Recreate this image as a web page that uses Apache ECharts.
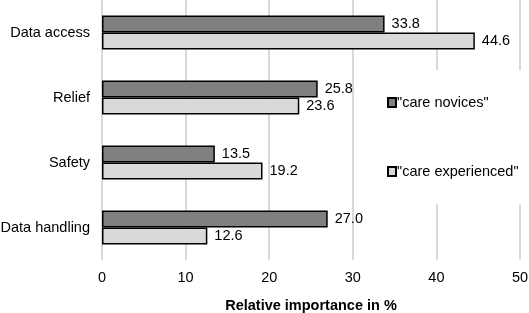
<html>
<head>
<meta charset="utf-8" />
<script src="https://cdn.jsdelivr.net/npm/echarts@6/dist/echarts.min.js"></script>
<style>
    html, body, #main { width: 100%; height: 100%; margin: 0; padding: 0; background: #fff; }
</style>
</head>
<body>
<div id="main"></div>
<script>
var categories = ['Data access', 'Relief', 'Safety', 'Data handling'];
var novices = [33.8, 25.8, 13.5, 27.0];
var experienced = [44.6, 23.6, 19.2, 12.6];
var seriesNames = ['"care novices"', '"care experienced"'];

var font = 'Liberation Sans, Arial, sans-serif';
var fs = 14.5;
var chart = echarts.init(document.getElementById('main'));

function barSeries(name, values, color) {
    return {
        type: 'bar',
        name: name,
        data: values,
        barWidth: 17,
        barGap: '0%',
        itemStyle: { color: color, borderColor: '#000', borderWidth: 1.5 },
        label: {
            show: true,
            position: 'right',
            distance: 7,
            fontFamily: font,
            fontSize: fs,
            color: '#000',
            formatter: function (p) { return p.value.toFixed(1); }
        }
    };
}

chart.setOption({
    animation: false,
    textStyle: { fontFamily: font },
    grid: { left: 102, right: 9, top: 0, bottom: 53, outerBoundsMode: 'none', containLabel: false },
    legend: {
        orient: 'vertical',
        left: 374,
        top: 70,
        width: 150,
        backgroundColor: '#fff',
        padding: [25, 8, 25, 13],
        itemGap: 54,
        itemWidth: 8,
        itemHeight: 9,
        icon: 'rect',
        textStyle: { fontFamily: font, fontSize: fs, color: '#000', padding: [0, 0, 0, -4] },
        data: seriesNames
    },
    xAxis: {
        type: 'value',
        min: 0,
        max: 50,
        interval: 10,
        name: 'Relative importance in %',
        nameLocation: 'middle',
        nameGap: 38,
        nameTextStyle: { fontFamily: font, fontSize: fs, fontWeight: 'bold', color: '#000' },
        axisLine: { show: false },
        axisTick: { show: false },
        axisLabel: { fontFamily: font, fontSize: fs, color: '#000', margin: 10 },
        splitLine: { lineStyle: { color: '#d9d9d9', width: 2 } }
    },
    yAxis: {
        type: 'category',
        data: categories,
        inverse: true,
        axisLine: { show: false },
        axisTick: { show: false },
        axisLabel: { fontFamily: font, fontSize: fs, color: '#000', margin: 12 }
    },
    series: [
        barSeries(seriesNames[0], novices, '#808080'),
        barSeries(seriesNames[1], experienced, '#d9d9d9')
    ]
});
</script>
</body>
</html>
